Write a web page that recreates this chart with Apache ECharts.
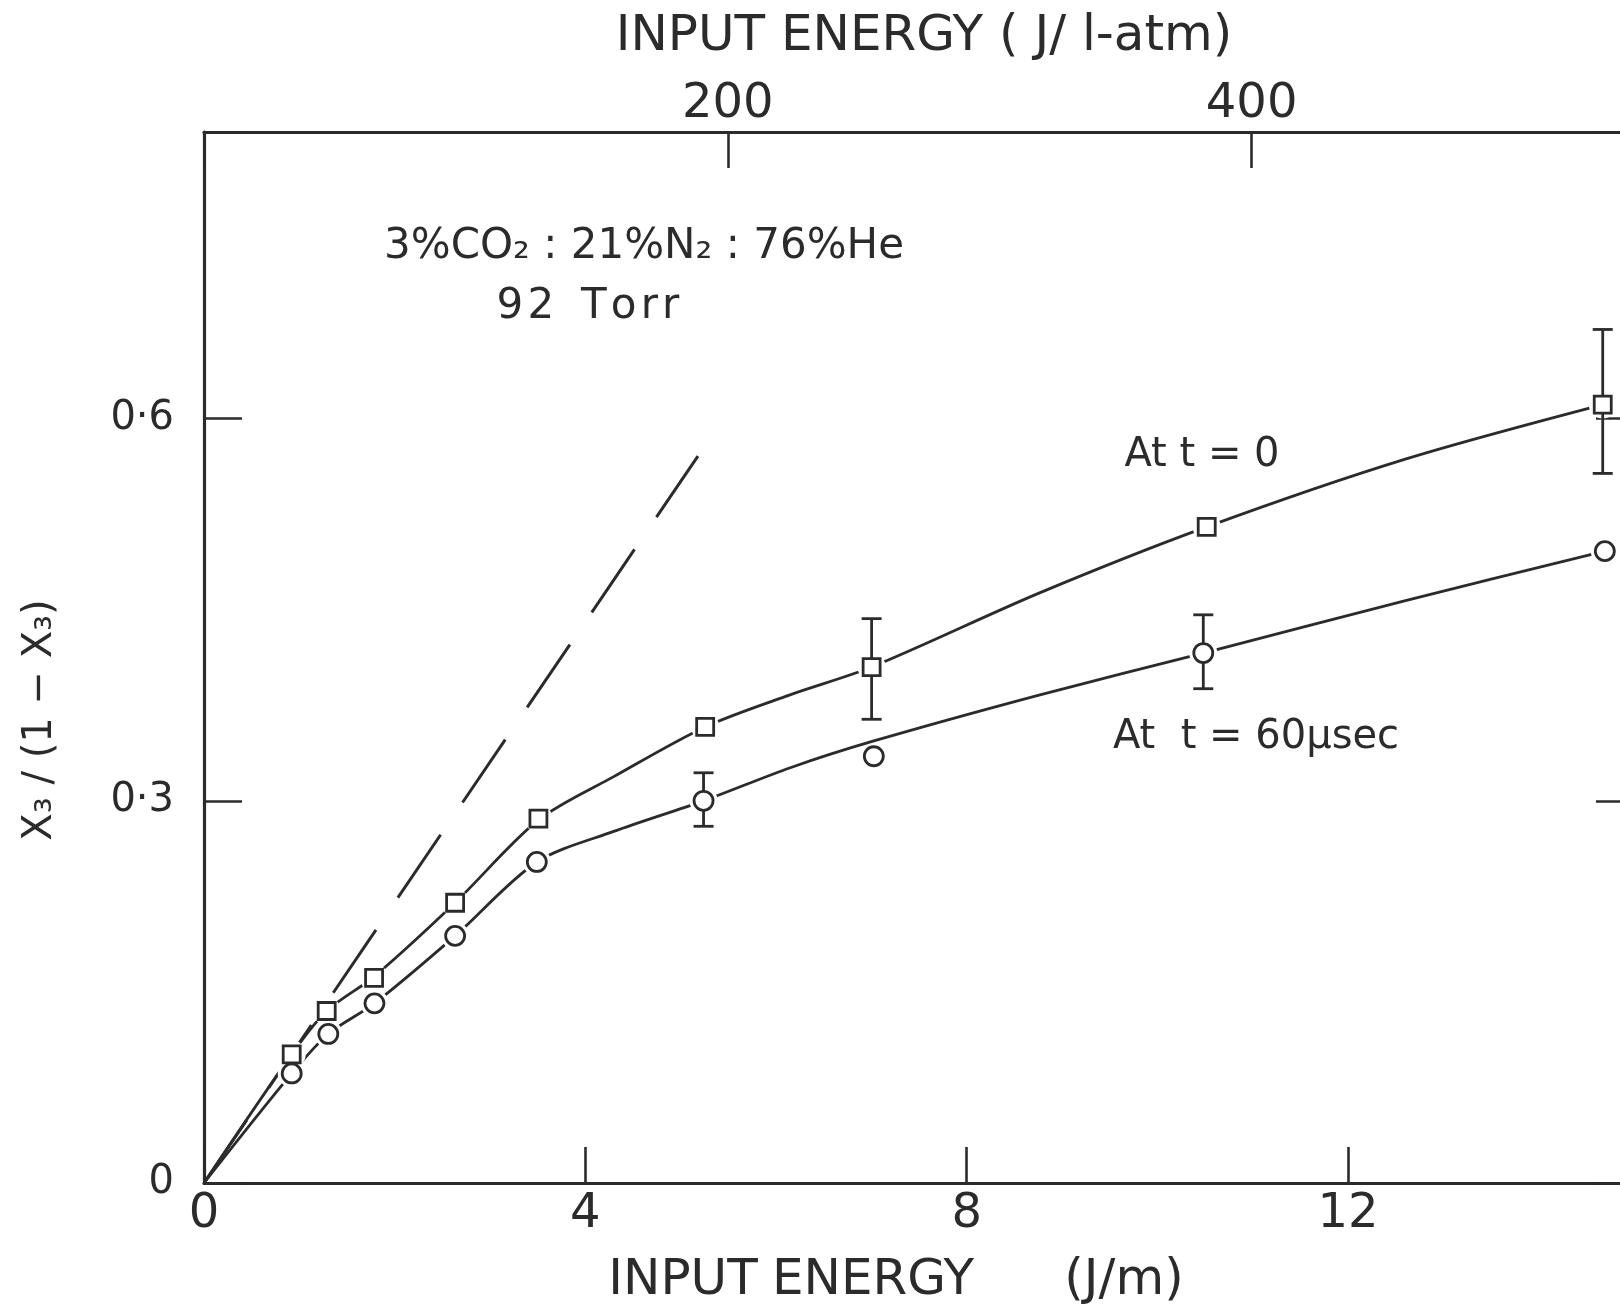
<!DOCTYPE html>
<html>
<head>
<meta charset="utf-8">
<script src="https://cdn.jsdelivr.net/npm/echarts@6/dist/echarts.min.js"></script>
<style>
  * { margin: 0; padding: 0; }
  body { background: #fff; }
  #chart { width: 1620px; height: 1304px; }
</style>
</head>
<body>
<div id="chart"></div>
<script>
// values (x: J/m, y: X3/(1-X3))
const energyT0 = [0.920, 1.287, 1.784, 2.634, 3.508, 5.257, 7.003, 10.518, 14.672];
const ratioT0 = [0.101, 0.135, 0.161, 0.220, 0.286, 0.358, 0.405, 0.515, 0.611];
const energyT60 = [0.920, 1.304, 1.788, 2.634, 3.491, 5.240, 7.026, 10.482, 14.694];
const ratioT60 = [0.086, 0.117, 0.141, 0.194, 0.252, 0.300, 0.335, 0.416, 0.496];

// hand drawn curves
const fitX0 = [0, 0.920, 1.287, 1.784, 2.634, 3.508, 4.298, 5.257, 6.140, 7.003, 8.759, 10.518, 12.593, 14.672];
const fitY0 = [0, 0.101, 0.135, 0.162, 0.220, 0.285, 0.319, 0.358, 0.383, 0.405, 0.463, 0.515, 0.568, 0.611];
const fitX60 = [0, 0.920, 1.304, 1.788, 2.634, 3.491, 4.298, 5.240, 6.150, 7.026, 8.759, 10.482, 12.593, 14.694];
const fitY60 = [0, 0.086, 0.117, 0.141, 0.194, 0.252, 0.276, 0.300, 0.326, 0.347, 0.383, 0.416, 0.457, 0.496];

// dashed initial slope
const slopeX = [0, 5.181];
const slopeY = [0, 0.5706];

// error bars
const errT0X = [7.003, 14.672];
const errT0Lo = [0.364, 0.557];
const errT0Hi = [0.443, 0.670];
const errT60X = [5.240, 10.482];
const errT60Lo = [0.280, 0.388];
const errT60Hi = [0.322, 0.446];

const bottomTicks = [0, 4, 8, 12];
const topTicks = [200, 400];
const leftTicks = [0, 0.3, 0.6];

const ink = '#2b2b2b';
const font = 'DejaVu Sans';

const zip = (a, b) => a.map((v, i) => [v, b[i]]);
const errData = (x, lo, hi) => x.map((v, i) => [v, lo[i], hi[i]]);

function errorBar(params, api) {
  const x = api.value(0);
  const lo = api.coord([x, api.value(1)]);
  const hi = api.coord([x, api.value(2)]);
  const w = 10;
  const st = { stroke: ink, lineWidth: 2.8 };
  return {
    type: 'group',
    children: [
      { type: 'line', shape: { x1: lo[0], y1: lo[1], x2: hi[0], y2: hi[1] }, style: st },
      { type: 'line', shape: { x1: lo[0] - w, y1: lo[1], x2: lo[0] + w, y2: lo[1] }, style: st },
      { type: 'line', shape: { x1: hi[0] - w, y1: hi[1], x2: hi[0] + w, y2: hi[1] }, style: st }
    ]
  };
}

const axisLine = { show: true, onZero: false, lineStyle: { color: ink, width: 3.2 } };
const tick = (len) => ({ show: true, inside: true, length: len, lineStyle: { color: ink, width: 2.6 } });
const txt = (x, y, text, size, extra) => Object.assign({
  type: 'text', x: x, y: y,
  style: { text: text, font: size + 'px "DejaVu Sans"', fill: ink, align: 'center', verticalAlign: 'middle' }
}, extra || {});

var chart = echarts.init(document.getElementById('chart'));
const option = {
  animation: false,
  backgroundColor: '#fff',
  grid: { left: 204, top: 132, width: 1430, height: 1051, outerBoundsMode: 'none', containLabel: false },
  xAxis: [
    {
      type: 'value', position: 'bottom', min: 0, max: 15, interval: 4,
      axisLine: axisLine, axisTick: tick(36), splitLine: { show: false },
      axisLabel: {
        margin: 8, fontSize: 48, fontFamily: font, color: ink,
        formatter: v => bottomTicks.includes(v) ? String(v) : ''
      }
    },
    {
      type: 'value', position: 'top', min: 0, max: 546, interval: 200,
      axisLine: axisLine, axisTick: tick(36), splitLine: { show: false },
      axisLabel: {
        margin: 3, fontSize: 48, fontFamily: font, color: ink,
        formatter: v => topTicks.includes(v) ? String(v) : ''
      }
    }
  ],
  yAxis: [
    {
      type: 'value', position: 'left', min: 0, max: 0.825, interval: 0.3,
      axisLine: axisLine, axisTick: tick(38), splitLine: { show: false },
      axisLabel: {
        margin: 30, fontSize: 40, fontFamily: font, color: ink,
        formatter: v => {
          if (!leftTicks.some(t => Math.abs(t - v) < 1e-6)) return '';
          return v === 0 ? '0' : v.toFixed(1).replace('.', '\u00b7');
        }
      }
    },
    {
      type: 'value', position: 'right', min: 0, max: 0.825, interval: 0.3,
      axisLine: axisLine, axisTick: tick(38), splitLine: { show: false },
      axisLabel: { show: false }
    }
  ],
  series: [
    {
      name: 'slope', type: 'line', data: zip(slopeX, slopeY), showSymbol: false,
      lineStyle: { color: ink, width: 3, type: [76, 39], dashOffset: 0 }, z: 1
    },
    {
      name: 'curve t=0', type: 'line', data: zip(fitX0, fitY0), smooth: 0.3,
      showSymbol: false, lineStyle: { color: ink, width: 2.8 }, z: 1
    },
    {
      name: 'curve t=60', type: 'line', data: zip(fitX60, fitY60), smooth: 0.3,
      showSymbol: false, lineStyle: { color: ink, width: 2.8 }, z: 1
    },
    {
      // white halo so the curves stop short of the markers
      name: 'gap', type: 'scatter', symbol: 'circle', symbolSize: 28, z: 2,
      data: zip(energyT0, ratioT0).concat(zip(energyT60, ratioT60).filter((d, i) => i !== 6)),
      itemStyle: { color: '#fff', opacity: 1 }
    },
    {
      name: 'err t=0', type: 'custom', renderItem: errorBar, z: 3,
      data: errData(errT0X, errT0Lo, errT0Hi), encode: { x: 0, y: [1, 2] }
    },
    {
      name: 'err t=60', type: 'custom', renderItem: errorBar, z: 3,
      data: errData(errT60X, errT60Lo, errT60Hi), encode: { x: 0, y: [1, 2] }
    },
    {
      name: 'At t=0', type: 'scatter', symbol: 'rect', symbolSize: 17, z: 4,
      data: zip(energyT0, ratioT0),
      itemStyle: { color: '#fff', borderColor: ink, borderWidth: 2.8, opacity: 1 }
    },
    {
      name: 'At t=60', type: 'scatter', symbol: 'circle', symbolSize: 19, z: 4,
      data: zip(energyT60, ratioT60),
      itemStyle: { color: '#fff', borderColor: ink, borderWidth: 2.8, opacity: 1 }
    }
  ],
  graphic: [
    txt(924, 37, 'INPUT ENERGY ( J/ l-atm)', 50),
    txt(683, 1281, 'INPUT', 50),
    txt(873, 1281, 'ENERGY', 50),
    txt(1124, 1281, '(J/m)', 50),
    txt(41, 720, 'X\u2083 / (1 \u2212 X\u2083)', 40, { rotation: Math.PI / 2 }),
    txt(644, 247, '3%CO\u2082 : 21%N\u2082 : 76%He', 42),
    txt(588, 307, '9\u200a2  T\u200ao\u200ar\u200ar', 42),
    txt(1202, 456, 'At t = 0', 40),
    txt(1256, 738, 'At  t = 60\u00b5sec', 40)
  ]
};
chart.setOption(option);
window.addEventListener('resize', function () {
  chart.resize();
});
</script>
</body>
</html>
